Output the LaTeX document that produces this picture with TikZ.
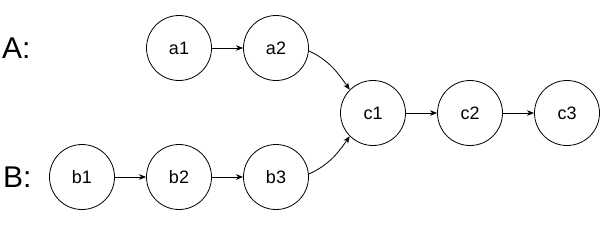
\documentclass[tikz,border=0pt]{standalone}
\usepackage{fontspec}
\setmainfont{Liberation Sans}
\usetikzlibrary{arrows.meta}
\begin{document}
\begin{tikzpicture}[x=1pt,y=-1pt,
  vnode/.style={circle,draw=black,line width=0.8pt,minimum size=65pt,inner sep=0pt,font=\fontsize{18}{20}\selectfont},
  rowlabel/.style={anchor=west,inner sep=0pt,font=\fontsize{30}{32}\selectfont},
  link/.style={draw=black,line width=0.8pt,-{Stealth[length=7pt,width=5.5pt,inset=2pt]}}]
\useasboundingbox (0,0) rectangle (612,225);
\node[rowlabel] (A) at (2,48) {A:};
\node[rowlabel] (B) at (3,177) {B:};
\node[vnode] (a1) at (179,48) {a1};
\node[vnode] (a2) at (276,48) {a2};
\node[vnode] (b1) at (82,177) {b1};
\node[vnode] (b2) at (179,177) {b2};
\node[vnode] (b3) at (276,177) {b3};
\node[vnode] (c1) at (373,113) {c1};
\node[vnode] (c2) at (470,113) {c2};
\node[vnode] (c3) at (567,113) {c3};
\draw[link] (a1) -- (a2);
\draw[link] (b1) -- (b2);
\draw[link] (b2) -- (b3);
\draw[link] (c1) -- (c2);
\draw[link] (c2) -- (c3);
\draw[link] (a2.-5) to[out=-25,in=125] (c1.135);
\draw[link] (b3.5) to[out=25,in=-125] (c1.-135);
\end{tikzpicture}
\end{document}
